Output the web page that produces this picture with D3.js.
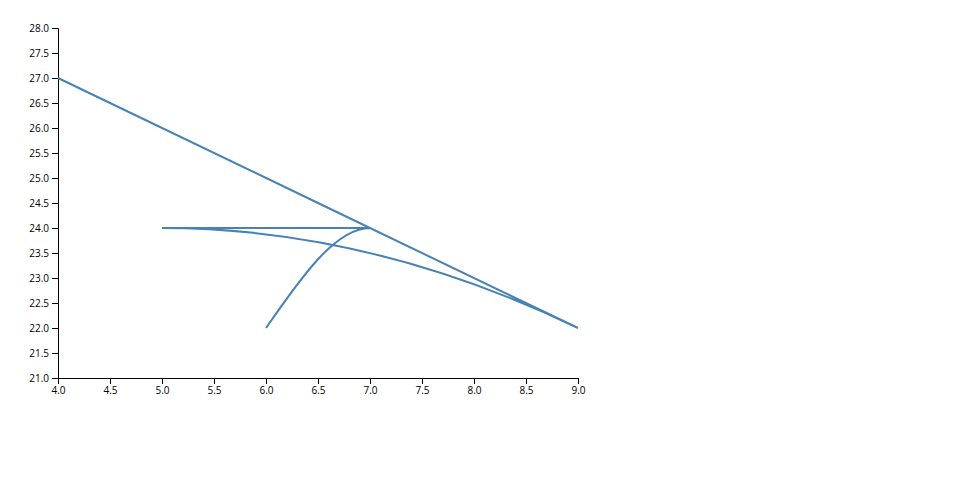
<!DOCTYPE html>
<html>
<head>
    <meta charset="utf-8">
    <title>Monotone line</title>
    <script src="https://cdn.jsdelivr.net/npm/d3@7"></script>
    <style>
        body { margin: 0; }
        .axis text { font-family: "Open Sans", sans-serif; font-size: 10px; }
        .line { fill: none; stroke: steelblue; stroke-width: 2px; }
    </style>
</head>
<body>
<script>
    var xs = [4, 9, 5, 7, 6];
    var ys = [27, 22, 24, 24, 22];
    var xDomain = [4, 9],
        yDomain = [21, 28];

    var margin = {top: 28, right: 382, bottom: 122, left: 58},
        width = 960 - margin.left - margin.right,
        height = 500 - margin.top - margin.bottom;

    var data = xs.map(function (x, i) { return {x: x, y: ys[i]}; });

    var x = d3.scaleLinear().domain(xDomain).range([0, width]);
    var y = d3.scaleLinear().domain(yDomain).range([height, 0]);

    var svg = d3.select("body").append("svg")
            .attr("width", 960)
            .attr("height", 500)
        .append("g")
            .attr("transform", "translate(" + margin.left + "," + margin.top + ")");

    svg.append("g")
        .attr("class", "axis")
        .attr("transform", "translate(0," + height + ")")
        .call(d3.axisBottom(x).ticks(10).tickFormat(d3.format(".1f")));

    svg.append("g")
        .attr("class", "axis")
        .call(d3.axisLeft(y).ticks(14).tickFormat(d3.format(".1f")));

    var line = d3.line()
        .x(function (d) { return x(d.x); })
        .y(function (d) { return y(d.y); })
        .curve(d3.curveMonotoneX);

    svg.append("path")
        .datum(data)
        .attr("class", "line")
        .attr("d", line);
</script>
</body>
</html>
